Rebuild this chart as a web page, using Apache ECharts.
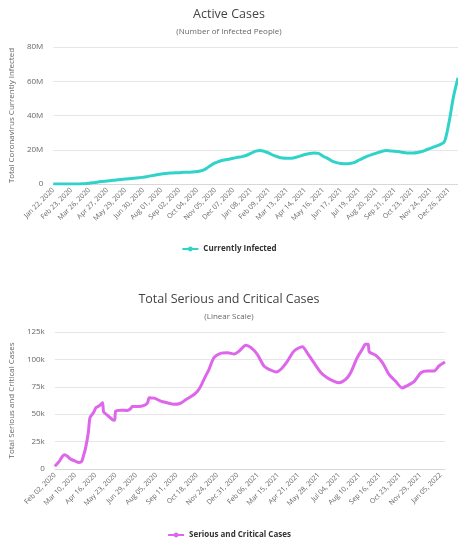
<!DOCTYPE html>
<html><head><meta charset="utf-8">
<script src="https://cdn.jsdelivr.net/npm/echarts@6/dist/echarts.min.js"></script>
<style>html,body{margin:0;padding:0;background:#fff}#c{width:458px;height:539px}</style>
</head><body><div id="c"></div>
<script>
// ---- Active Cases (millions), x = days since Jan 22, 2020
const activeStart = '2020-01-22';
const activeDays = [0,8,16,24,32,40,48,56,64,72,80,88,96,104,112,120,128,136,144,152,160,168,176,184,192,200,208,216,224,232,240,248,256,264,272,280,288,296,304,312,320,328,336,344,352,360,368,376,384,392,400,408,416,424,432,440,448,456,464,472,480,488,496,504,512,520,528,536,544,552,560,568,576,584,592,600,608,616,624,632,640,648,656,664,672,680,688,696,704,712,720];
const activeValues = [0.0,0.01,0.03,0.05,0.06,0.05,0.07,0.15,0.4,0.8,1.2,1.5,1.8,2.1,2.4,2.6,2.9,3.1,3.3,3.6,4.0,4.4,4.9,5.4,5.9,6.2,6.4,6.5,6.6,6.8,6.9,7.0,7.3,7.8,9.0,10.8,12.3,13.3,14.0,14.5,15.0,15.6,16.0,16.8,18.0,19.2,19.6,19.0,18.0,16.7,15.8,15.2,15.1,15.1,15.6,16.4,17.2,17.8,18.1,17.9,16.2,15.0,13.4,12.5,12.0,11.8,12.0,12.6,14.0,15.3,16.4,17.3,18.2,19.0,19.5,19.3,19.1,18.8,18.4,18.1,18.1,18.4,19.0,20.0,21.0,22.0,23.0,24.8,36,51,62];
const activeYTicks = [0,20,40,60,80];

// ---- Serious and Critical (thousands), x = days since Feb 02, 2020
const seriousStart = '2020-02-02';
const seriousDays = [0,8,14,18,23,29,38,44,49,52,56,61,64,70,75,79,84,87,89,96,105,109,111,120,132,138,141,151,163,169,172,181,193,205,217,229,239,251,260,266,273,281,290,302,315,327,336,348,357,369,381,393,403,412,424,436,451,460,472,485,497,509,518,530,539,551,560,566,571,573,585,597,609,621,633,642,655,667,679,691,700,711];
const seriousValues = [2.5,7,11.6,13,11.6,9,7,6,7,11.6,19,33,46.7,51,56,57,59,60.4,52,49,45,44.5,52.8,53.7,53.4,55,57,57,58,60.4,65,64.7,62,60.4,59,60,63.4,67,71,75.6,83,91,101.6,105.5,106,105,107.7,113,111,104.6,94,90.3,88.5,91,98.5,107.7,111.6,106,97,87.8,83,80,78.7,81.7,87.8,101.6,109,113.8,113.8,106.8,103.7,97,86.3,80,74,76,80,87.8,89.4,89.4,94,97.6];
const seriousYTicks = [0,25,50,75,100,125];

const MON = ['Jan','Feb','Mar','Apr','May','Jun','Jul','Aug','Sep','Oct','Nov','Dec'];
function fmtDate(start, d) {
  const t = new Date(Date.parse(start + 'T00:00:00Z') + d * 864e5);
  return MON[t.getUTCMonth()] + ' ' + String(t.getUTCDate()).padStart(2, '0') + ', ' + t.getUTCFullYear();
}
const FONT = '"Open Sans", "DejaVu Sans", sans-serif';
const gridColor = '#e6e6e6';

const chart = echarts.init(document.getElementById('c'));
function xAxisFor(gridIndex, start, max, interval) {
  return {
    type: 'value', gridIndex, min: 0, max, interval,
    axisLine: { show: true, lineStyle: { color: '#d8d8d8' } },
    axisTick: { show: false },
    splitLine: { show: false },
    axisLabel: {
      rotate: 45, fontSize: 7, color: '#666', fontFamily: FONT, margin: 5,
      showMaxLabel: false, showMinLabel: true,
      formatter: v => fmtDate(start, v)
    }
  };
}
function yAxisFor(gridIndex, ticks, unit, name) {
  return {
    type: 'value', gridIndex, min: ticks[0], max: ticks[ticks.length - 1],
    interval: ticks[1] - ticks[0],
    name, nameLocation: 'middle', nameGap: 36,
    nameTextStyle: { fontSize: 8, color: '#666', fontFamily: FONT },
    axisLine: { show: false }, axisTick: { show: false },
    splitLine: { lineStyle: { color: gridColor } },
    axisLabel: { fontSize: 8, color: '#666', fontFamily: FONT, margin: 10,
      formatter: v => v === 0 ? '0' : v + unit }
  };
}

chart.setOption({
  animation: false,
  textStyle: { fontFamily: FONT },
  title: [
    { text: 'Active Cases', subtext: '(Number of Infected People)', left: 'center', top: 3, itemGap: 7,
      textStyle: { fontSize: 12.5, fontWeight: 'normal', color: '#444', fontFamily: FONT },
      subtextStyle: { fontSize: 8, color: '#666', fontFamily: FONT } },
    { text: 'Total Serious and Critical Cases', subtext: '(Linear Scale)', left: 'center', top: 288, itemGap: 7,
      textStyle: { fontSize: 12.5, fontWeight: 'normal', color: '#444', fontFamily: FONT },
      subtextStyle: { fontSize: 8, color: '#666', fontFamily: FONT } }
  ],
  legend: [
    { data: ['Currently Infected'], top: 240, left: 'center', itemWidth: 16, itemHeight: 6,
      textStyle: { fontSize: 8, fontWeight: 'bold', color: '#333', fontFamily: FONT } },
    { data: ['Serious and Critical Cases'], top: 526, left: 'center', itemWidth: 16, itemHeight: 6,
      textStyle: { fontSize: 8, fontWeight: 'bold', color: '#333', fontFamily: FONT } }
  ],
  grid: [
    { left: 52, right: 0, top: 47, height: 137 },
    { left: 53, right: 13, top: 332, height: 137 }
  ],
  xAxis: [
    xAxisFor(0, activeStart, 720, 32),
    xAxisFor(1, seriousStart, 711, 37)
  ],
  yAxis: [
    yAxisFor(0, activeYTicks, 'M', 'Total Coronavirus Currently Infected'),
    yAxisFor(1, seriousYTicks, 'k', 'Total Serious and Critical Cases')
  ],
  series: [
    { name: 'Currently Infected', type: 'line', xAxisIndex: 0, yAxisIndex: 0,
      data: activeDays.map((d, i) => [d, activeValues[i]]),
      smooth: 0.3, symbol: 'circle', symbolSize: 6, showSymbol: false,
      lineStyle: { color: '#2fd3c9', width: 3 }, itemStyle: { color: '#2fd3c9' } },
    { name: 'Serious and Critical Cases', type: 'line', xAxisIndex: 1, yAxisIndex: 1,
      data: seriousDays.map((d, i) => [d, seriousValues[i]]),
      smooth: 0.25, symbol: 'circle', symbolSize: 6, showSymbol: false,
      lineStyle: { color: '#dd66ea', width: 3 }, itemStyle: { color: '#dd66ea' } }
  ]
});
</script></body></html>
